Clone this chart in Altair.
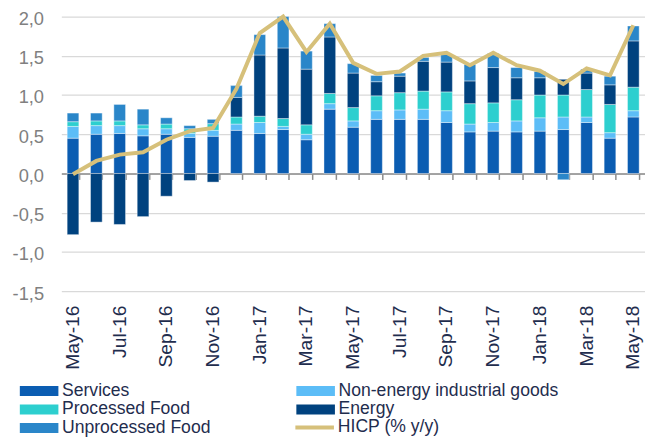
import altair as alt
import pandas as pd

months = ["May-16", "Jun-16", "Jul-16", "Aug-16", "Sep-16", "Oct-16", "Nov-16", "Dec-16",
          "Jan-17", "Feb-17", "Mar-17", "Apr-17", "May-17", "Jun-17", "Jul-17", "Aug-17",
          "Sep-17", "Oct-17", "Nov-17", "Dec-17", "Jan-18", "Feb-18", "Mar-18", "Apr-18", "May-18"]

services = [0.45, 0.50, 0.51, 0.48, 0.50, 0.46, 0.475, 0.55, 0.51, 0.56, 0.43, 0.82, 0.59,
            0.69, 0.69, 0.69, 0.65, 0.53, 0.54, 0.53, 0.54, 0.56, 0.65, 0.45, 0.72]
neig = [0.15, 0.11, 0.10, 0.09, 0.07, 0.05, 0.075, 0.08, 0.14, 0.04, 0.07, 0.07, 0.08,
        0.11, 0.12, 0.13, 0.15, 0.10, 0.11, 0.14, 0.17, 0.16, 0.07, 0.07, 0.08]
processed_food = [0.06, 0.06, 0.06, 0.05, 0.06, 0.06, 0.085, 0.09, 0.08, 0.10, 0.12, 0.13, 0.17,
                  0.19, 0.22, 0.23, 0.24, 0.26, 0.25, 0.27, 0.29, 0.28, 0.35, 0.36, 0.30]
energy = [-0.78, -0.62, -0.65, -0.55, -0.29, -0.09, -0.11, 0.25, 0.78, 0.90, 0.71, 0.72, 0.44,
          0.18, 0.21, 0.38, 0.38, 0.29, 0.45, 0.28, 0.22, 0.20, 0.21, 0.25, 0.59]
unprocessed_food = [0.11, 0.10, 0.21, 0.20, 0.08, 0.04, 0.055, 0.15, 0.26, 0.40, 0.23, 0.17, 0.12,
                    0.08, 0.04, 0.05, 0.10, 0.21, 0.18, 0.13, 0.08, -0.08, 0.05, 0.11, 0.19]
hicp = [-0.01, 0.16, 0.24, 0.27, 0.43, 0.54, 0.58, 1.08, 1.79, 2.00, 1.55, 1.91, 1.41,
        1.27, 1.30, 1.50, 1.54, 1.38, 1.54, 1.38, 1.31, 1.14, 1.34, 1.25, 1.89]

series_names = ["Services", "Non-energy industrial goods", "Processed Food", "Energy", "Unprocessed Food"]
series_values = [services, neig, processed_food, energy, unprocessed_food]
series_colors = ["#0b5db2", "#5cbdf7", "#2dcfcf", "#00427f", "#2a86c9"]
line_name = "HICP (% y/y)"
line_color = "#d6c07a"
y_ticks = [-1.5, -1.0, -0.5, 0.0, 0.5, 1.0, 1.5, 2.0]

rows = []
for k, (name, vals) in enumerate(zip(series_names, series_values)):
    for m, v in zip(months, vals):
        rows.append({"month": m, "series": name, "value": v, "order": k})
bars_df = pd.DataFrame(rows)
line_df = pd.DataFrame({"month": months, "value": hicp, "series": [line_name] * len(months)})

color_scale = alt.Scale(domain=series_names, range=series_colors)
stroke_scale = alt.Scale(domain=[line_name], range=[line_color])
x_scale = alt.Scale(domain=months, paddingInner=0.5, paddingOuter=0.25)
y_scale = alt.Scale(domain=[-1.5, 2.0], nice=False, zero=False)

FONT = "Liberation Sans"
TEXT_COLOR = "#1f2d4e"
H = 278
zero_offset = -H * 1.5 / 3.5

bar_legend = alt.Legend(
    orient="none", legendX=-31.5, legendY=370.0, columns=2, direction="horizontal", title=None,
    labelFont=FONT, labelFontSize=17.8, labelColor=TEXT_COLOR, labelOffset=14.2, labelLimit=400,
    symbolType="M-2.17,-0.556H2.17V0.556H-2.17Z", symbolSize=324, symbolStrokeWidth=0,
    symbolOpacity=1, columnPadding=86, rowPadding=0.8, padding=0,
)
line_legend = alt.Legend(
    orient="none", legendX=245.5, legendY=405.0, title=None,
    labelFont=FONT, labelFontSize=17.8, labelColor=TEXT_COLOR, labelOffset=12.5, labelLimit=400,
    symbolType="M-2.17,0H2.17", symbolSize=324, symbolStrokeWidth=4, symbolOpacity=1, padding=0,
)

label_axis = alt.Axis(
    orient="bottom", values=months[::2], labelAngle=-90, labelAlign="right", labelBaseline="middle",
    labelPadding=14, labelFont=FONT, labelFontSize=19.5, labelColor=TEXT_COLOR, labelOverlap=False,
    domain=False, ticks=False, tickSize=0, grid=False, title=None,
)
tick_axis = alt.Axis(
    orient="bottom", offset=zero_offset, labels=False, domain=True, domainColor="#8c8c8c",
    domainWidth=1.5, ticks=True, tickBand="extent", tickSize=6, tickColor="#8c8c8c", tickWidth=1.5,
    grid=False, title=None,
)
y_axis = alt.Axis(
    values=y_ticks, tickCount=20, labelOverlap=False, labelOffset=2,
    labelExpr="replace(replace(format(datum.value, '.1f'), '.', ','), '\u2212', '-')",
    labelFont=FONT, labelFontSize=18.5, labelColor="#808080", labelPadding=18,
    domain=False, ticks=False, tickSize=0, grid=True, gridColor="#d9d9d9", gridWidth=1.2, title=None,
)

bars = alt.Chart(bars_df).mark_bar(stroke="white", strokeWidth=0.4).encode(
    x=alt.X("month:N", sort=months, scale=x_scale, axis=label_axis),
    y=alt.Y("value:Q", scale=y_scale, axis=y_axis, stack="zero"),
    color=alt.Color("series:N", scale=color_scale, legend=bar_legend),
    order=alt.Order("order:Q", sort="ascending"),
)

line = alt.Chart(line_df).mark_line(strokeWidth=4).encode(
    x=alt.X("month:N", sort=months, scale=x_scale, axis=tick_axis),
    y=alt.Y("value:Q", scale=y_scale),
    stroke=alt.Stroke("series:N", scale=stroke_scale, legend=line_legend),
)

chart = alt.layer(bars, line).resolve_axis(x="independent").properties(
    width=591, height=H,
    autosize=alt.AutoSizeParams(type="none"),
    padding={"left": 54, "top": 6, "right": 0, "bottom": 145},
    background="white",
).configure_view(stroke=None)

chart.save("out.html", embed_options={"renderer": "svg", "actions": False})
